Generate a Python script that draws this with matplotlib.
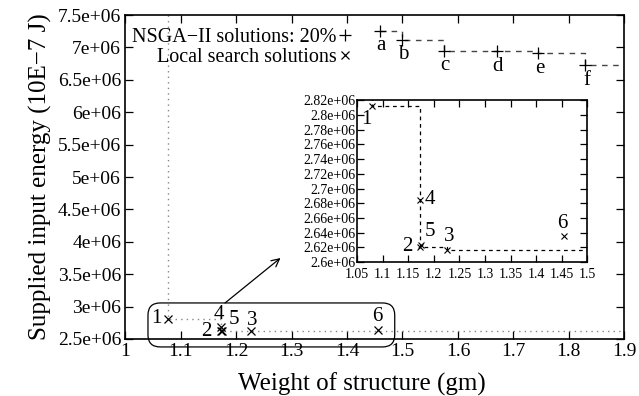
import numpy as np
import matplotlib.pyplot as plt
from matplotlib.patches import FancyBboxPatch

plt.rcParams['font.family'] = ['Liberation Serif', 'DejaVu Serif']

# NSGA-II solutions (points a-f)
nsga_labels = ['a', 'b', 'c', 'd', 'e', 'f']
nsga_weight = [1.46, 1.50, 1.575, 1.67, 1.745, 1.83]
nsga_energy = [7.26e6, 7.12e6, 6.95e6, 6.94e6, 6.91e6, 6.73e6]

# local search solutions (points 1-6)
ls_labels = ['1', '2', '3', '4', '5', '6']
ls_weight = [1.078, 1.172, 1.226, 1.172, 1.174, 1.455]
ls_energy = [2.812e6, 2.620e6, 2.617e6, 2.685e6, 2.623e6, 2.635e6]
front_idx = [0, 1, 2]   # non-dominated ones

main_xticks = [1.0, 1.1, 1.2, 1.3, 1.4, 1.5, 1.6, 1.7, 1.8, 1.9]
main_xlabels = ['1', '1.1', '1.2', '1.3', '1.4', '1.5', '1.6', '1.7', '1.8', '1.9']
main_yticks = [2.5e6, 3e6, 3.5e6, 4e6, 4.5e6, 5e6, 5.5e6, 6e6, 6.5e6, 7e6, 7.5e6]
main_ylabels = ['2.5e+06', '3e+06', '3.5e+06', '4e+06', '4.5e+06', '5e+06',
                '5.5e+06', '6e+06', '6.5e+06', '7e+06', '7.5e+06']
inset_xticks = [1.05, 1.1, 1.15, 1.2, 1.25, 1.3, 1.35, 1.4, 1.45, 1.5]
inset_xlabels = ['1.05', '1.1', '1.15', '1.2', '1.25', '1.3', '1.35', '1.4', '1.45', '1.5']
inset_yticks = [2.6e6, 2.62e6, 2.64e6, 2.66e6, 2.68e6, 2.7e6, 2.72e6,
                2.74e6, 2.76e6, 2.78e6, 2.8e6, 2.82e6]
inset_ylabels = ['2.6e+06', '2.62e+06', '2.64e+06', '2.66e+06', '2.68e+06', '2.7e+06',
                 '2.72e+06', '2.74e+06', '2.76e+06', '2.78e+06', '2.8e+06', '2.82e+06']

# label offsets in points (main plot / inset)
main_offsets = {'1': (-8.5, 0), '2': (-10, 0), '3': (1.5, 8),
                '4': (-1, 9), '5': (8.5, 8), '6': (0, 10)}
inset_offsets = {'1': (-3.5, -10), '2': (-8.5, 1), '3': (1.5, 9.5),
                 '4': (7.5, 0), '5': (7, 10), '6': (-1.5, 9)}

fig = plt.figure(figsize=(6.39, 3.96), dpi=100)
ax = fig.add_axes([0.196, 0.144, 0.781, 0.818])

# pareto step of the local search front
fx = [ls_weight[front_idx[0]]] + [ls_weight[i] for i in front_idx] + [1.9]
fy = [7.5e6] + [ls_energy[i] for i in front_idx] + [ls_energy[front_idx[-1]]]
ax.step(fx, fy, where='post', color='#888888', ls=(0, (1, 3)), lw=1.0)

# NSGA-II step
nx = nsga_weight + [1.9]
ny = nsga_energy + [nsga_energy[-1]]
ax.step(nx, ny, where='post', color='#444444', ls=(0, (4, 4)), lw=1.0)

ax.plot(nsga_weight, nsga_energy, ls='none', marker='+', ms=8, mew=0.9, color='black',
        label='NSGA\u2212II solutions: 20%')
ax.plot(ls_weight, ls_energy, ls='none', marker='x', ms=6, mew=0.9, color='black',
        label='Local search solutions')

for lab, x, y in zip(nsga_labels, nsga_weight, nsga_energy):
    ax.annotate(lab, (x, y), xytext=(0.7, -11), textcoords='offset points',
                ha='center', va='center', fontsize=15)
for lab, x, y in zip(ls_labels, ls_weight, ls_energy):
    ax.annotate(lab, (x, y), xytext=main_offsets[lab], textcoords='offset points',
                ha='center', va='center', fontsize=15)

ax.set_xlim(1.0, 1.9)
ax.set_ylim(2.5e6, 7.5e6)
ax.set_xticks(main_xticks, main_xlabels)
ax.set_yticks(main_yticks, main_ylabels)
ax.tick_params(direction='in', length=6, width=0.9, labelsize=14,
               top=True, right=True, pad=3)
for s in ax.spines.values():
    s.set_linewidth(1.2)
ax.set_xlabel('Weight of structure (gm)', fontsize=18, labelpad=0)
ax.xaxis.set_label_coords(0.475, -0.105)
ax.set_ylabel('Supplied input energy (10E\u22127 J)', fontsize=18, labelpad=4)

leg = ax.legend(loc='upper right', bbox_to_anchor=(0.572, 0.965),
                bbox_transform=fig.transFigure, markerfirst=False, frameon=False,
                fontsize=14.5, handlelength=0.6, handletextpad=0.15, labelspacing=0.05,
                borderpad=0.2)

# rounded box around the local search cluster
box = FancyBboxPatch((1.041, 2.377e6), 0.445, 0.679e6,
                     boxstyle='round,pad=0,rounding_size=0.022', mutation_aspect=8.6e6,
                     fill=False, lw=0.9, ec='black', clip_on=False)
ax.add_patch(box)
ax.annotate('', xy=(1.28, 3.75e6), xytext=(1.18, 3.056e6),
            arrowprops=dict(arrowstyle='->', lw=0.9, color='black',
                            mutation_scale=14, shrinkA=0, shrinkB=0))

# inset
axi = fig.add_axes([0.559, 0.338, 0.36, 0.409])
axi.step(fx, fy, where='post', color='black', ls=(0, (3, 3)), lw=0.9)
axi.plot(ls_weight, ls_energy, ls='none', marker='x', ms=5, mew=0.8, color='black')
for lab, x, y in zip(ls_labels, ls_weight, ls_energy):
    axi.annotate(lab, (x, y), xytext=inset_offsets[lab], textcoords='offset points',
                 ha='center', va='center', fontsize=15)
axi.set_xlim(1.05, 1.5)
axi.set_ylim(2.6e6, 2.82e6)
axi.set_xticks(inset_xticks, inset_xlabels)
axi.set_yticks(inset_yticks, inset_ylabels)
axi.tick_params(direction='in', length=5, width=0.9, labelsize=10,
                top=True, right=True, pad=1.5)
axi.tick_params(axis='x', pad=4)
for s in axi.spines.values():
    s.set_linewidth(1.2)

fig.savefig('out.png', dpi=100)
